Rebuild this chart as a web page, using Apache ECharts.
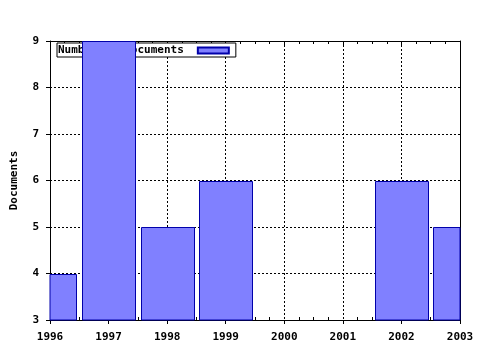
<!DOCTYPE html>
<html><head><meta charset="utf-8">
<script src="https://cdn.jsdelivr.net/npm/echarts@6/dist/echarts.min.js"></script>
<style>html,body{margin:0;padding:0;background:#fff}#c{width:480px;height:350px}</style>
</head><body><div id="c"></div>
<script>
var years = [1996, 1997, 1998, 1999, 2000, 2001, 2002, 2003];
var documents = [4, 9, 5, 6, 0, 0, 6, 5];
var yTicks = [3, 4, 5, 6, 7, 8, 9];
var seriesName = 'Number of documents';
var yName = 'Documents';

var font = 'DejaVu Sans Mono';
var barHalf = 0.4525;
var chart = echarts.init(document.getElementById('c'), null, {renderer: 'canvas'});
var dashed = {show: true, lineStyle: {color: '#000', type: [2, 2], width: 1}};
chart.setOption({
  animation: false,
  backgroundColor: '#fff',
  grid: {left: 50, right: 20, top: 41, bottom: 30, containLabel: false, outerBoundsMode: 'none'},
  legend: {
    show: true, left: 57, top: 43, z: 1,
    align: 'right', orient: 'horizontal',
    backgroundColor: '#fff', borderColor: '#000', borderWidth: 1,
    padding: [2, 6, 1, 1],
    itemWidth: 31, itemHeight: 6,
    textStyle: {fontFamily: font, fontWeight: 'bold', fontSize: 11, color: '#000', padding: [0, 9, 0, 0]},
    data: [{name: seriesName, icon: 'rect'}]
  },
  xAxis: [{
    type: 'value', min: years[0], max: years[years.length - 1], interval: 1,
    position: 'bottom',
    axisLine: {show: true, onZero: false, lineStyle: {color: '#000', width: 1}},
    axisTick: {show: true, length: 4, inside: false, lineStyle: {color: '#000'}},
    minorTick: {show: false},
    axisLabel: {show: true, margin: 12, fontFamily: font, fontWeight: 'bold', fontSize: 11, color: '#000',
      formatter: function (v) { return String(v); }},
    splitLine: dashed
  }, {
    type: 'value', min: years[0], max: years[years.length - 1], interval: 1,
    position: 'bottom',
    axisLine: {show: false},
    axisTick: {show: false, inside: true},
    minorTick: {show: true, splitNumber: 4, length: 3, lineStyle: {color: '#000'}},
    axisLabel: {show: false}, splitLine: {show: false}
  }, {
    type: 'value', min: years[0], max: years[years.length - 1], interval: 1,
    position: 'top',
    axisLine: {show: true, onZero: false, lineStyle: {color: '#000', width: 1}},
    axisTick: {show: true, inside: true, length: 4, lineStyle: {color: '#000'}},
    minorTick: {show: true, splitNumber: 4, length: 3, lineStyle: {color: '#000'}},
    axisLabel: {show: false}, splitLine: {show: false}
  }],
  yAxis: [{
    type: 'value', min: yTicks[0], max: yTicks[yTicks.length - 1], interval: 1,
    position: 'left',
    name: yName, nameLocation: 'middle', nameGap: 30, nameRotate: 90,
    nameTextStyle: {fontFamily: font, fontWeight: 'bold', fontSize: 11, color: '#000'},
    axisLine: {show: true, onZero: false, lineStyle: {color: '#000', width: 1}},
    axisTick: {show: true, length: 4, lineStyle: {color: '#000'}},
    axisLabel: {show: true, margin: 11, fontFamily: font, fontWeight: 'bold', fontSize: 11, color: '#000'},
    splitLine: dashed
  }, {
    type: 'value', min: yTicks[0], max: yTicks[yTicks.length - 1], interval: 1,
    position: 'right',
    axisLine: {show: true, onZero: false, lineStyle: {color: '#000', width: 1}},
    axisTick: {show: false}, axisLabel: {show: false}, splitLine: {show: false}
  }],
  series: [{
    name: seriesName, type: 'custom', xAxisIndex: 0, yAxisIndex: 0, z: 2,
    itemStyle: {color: '#8080ff', borderColor: '#0000aa', borderWidth: 1},
    encode: {x: 0, y: 1},
    renderItem: function (params, api) {
      var x = api.value(0), v = api.value(1);
      var p1 = api.coord([x - barHalf, v]);
      var p2 = api.coord([x + barHalf, 0]);
      var rect = {x: Math.round(p1[0]) + 0.5, y: Math.round(p1[1]) + 0.5,
                  width: Math.round(p2[0] - p1[0]), height: Math.round(p2[1] - p1[1])};
      var cs = params.coordSys;
      var shape = echarts.graphic.clipRectByRect(rect, {x: cs.x, y: cs.y, width: cs.width, height: cs.height});
      if (!shape) return null;
      return {type: 'rect', shape: shape,
        style: {fill: '#8080ff', stroke: '#0000aa', lineWidth: 1}};
    },
    data: years.map(function (y, i) { return [y, documents[i]]; })
  }]
});
</script></body></html>
